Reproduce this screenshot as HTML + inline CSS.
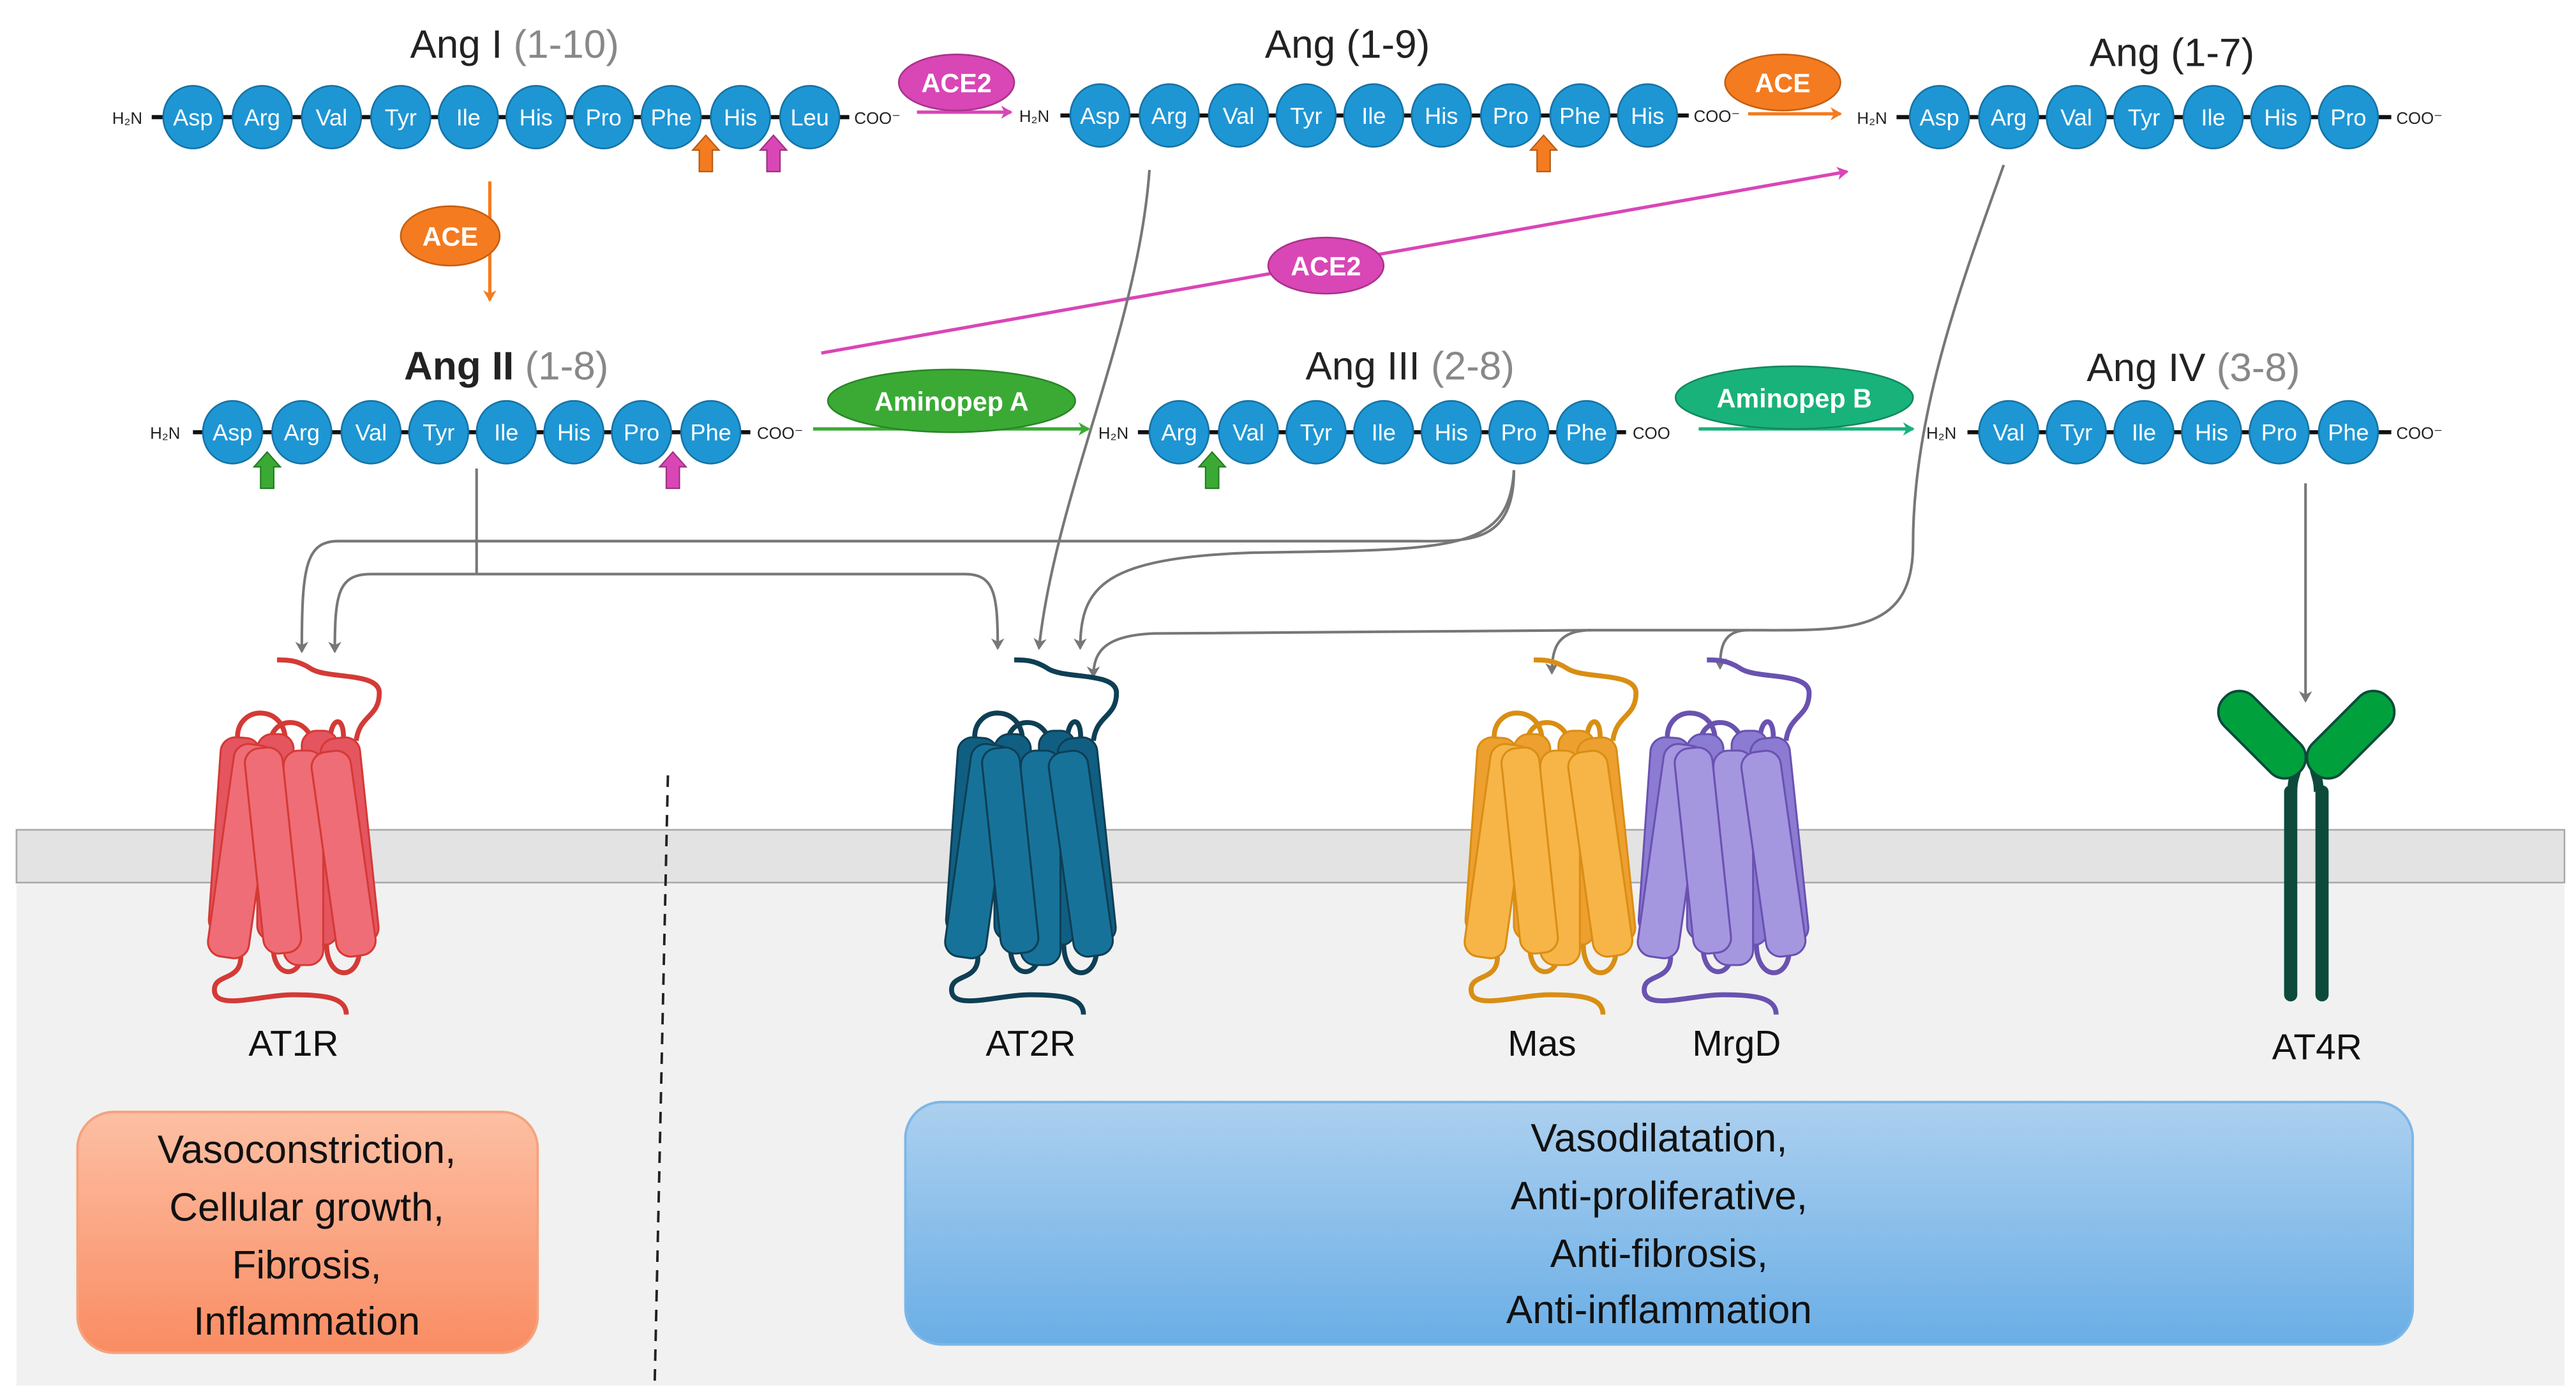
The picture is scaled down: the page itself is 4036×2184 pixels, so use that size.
<!DOCTYPE html>
<html><head><meta charset="utf-8"><style>
html,body{margin:0;padding:0;background:#fff}
svg{display:block}
text{font-family:"Liberation Sans",sans-serif}
</style></head><body>
<svg width="4036" height="2184" viewBox="0 0 1562 845" preserveAspectRatio="none" xmlns="http://www.w3.org/2000/svg">
<defs>
<marker id="ag" markerWidth="8" markerHeight="8" refX="6" refY="4" orient="auto" markerUnits="userSpaceOnUse"><path d="M0,0 L7,4 L0,8 L2,4z" fill="#777"/></marker>
<marker id="ao" markerWidth="8" markerHeight="8" refX="6" refY="4" orient="auto" markerUnits="userSpaceOnUse"><path d="M0,0 L7,4 L0,8 L2,4z" fill="#f47b20"/></marker>
<marker id="am" markerWidth="8" markerHeight="8" refX="6" refY="4" orient="auto" markerUnits="userSpaceOnUse"><path d="M0,0 L7,4 L0,8 L2,4z" fill="#d946b6"/></marker>
<marker id="agr" markerWidth="8" markerHeight="8" refX="6" refY="4" orient="auto" markerUnits="userSpaceOnUse"><path d="M0,0 L7,4 L0,8 L2,4z" fill="#3aaa35"/></marker>
<marker id="at" markerWidth="8" markerHeight="8" refX="6" refY="4" orient="auto" markerUnits="userSpaceOnUse"><path d="M0,0 L7,4 L0,8 L2,4z" fill="#19b27a"/></marker>
<linearGradient id="go" x1="0" y1="0" x2="0" y2="1"><stop offset="0" stop-color="#fdbfa3"/><stop offset="1" stop-color="#f98c63"/></linearGradient>
<linearGradient id="gb" x1="0" y1="0" x2="0" y2="1"><stop offset="0" stop-color="#acd0ef"/><stop offset="1" stop-color="#6aaee6"/></linearGradient>
<g id="rec">
  <path d="M-34,32 C-34,12 -5,12 -5,34 M-14,36 C-14,18 12,18 12,40 M22,36 C22,18 32,18 30,36 M38,34 C40,18 52,20 52,5 C52,-8 20,-3 10,-10 C2,-15 -4,-15 -10,-15" fill="none" stroke="var(--d)" stroke-width="3"/>
  <g fill="var(--b)" stroke="var(--d)" stroke-width="1.2">
    <rect x="-22" y="30" width="22" height="125" rx="9"/>
    <rect x="5" y="28" width="22" height="130" rx="9"/>
    <rect x="22" y="32" width="24" height="125" rx="9" transform="rotate(-6 34 95)"/>
    <rect x="-48" y="32" width="24" height="120" rx="9" transform="rotate(4 -36 95)"/>
  </g>
  <path d="M-12,155 C-15,180 8,180 5,157 M20,157 C20,180 40,180 40,160" fill="none" stroke="var(--d)" stroke-width="3"/>
  <g fill="var(--f)" stroke="var(--d)" stroke-width="1.2">
    <rect x="-44" y="36" width="25" height="130" rx="9" transform="rotate(8 -31 100)"/>
    <rect x="-6" y="40" width="24" height="130" rx="9"/>
    <rect x="18" y="40" width="24" height="125" rx="9" transform="rotate(-8 30 100)"/>
    <rect x="-24" y="38" width="23" height="125" rx="9" transform="rotate(-6 -12 100)"/>
  </g>
  <path d="M-32,165 C-32,180 -48,175 -48,185 C-48,198 -20,188 0,188 C20,188 32,190 32,200" fill="none" stroke="var(--d)" stroke-width="3"/>
</g>
</defs>

<rect x="10" y="535" width="1545" height="305" fill="#f1f1f1"/>
<rect x="10" y="503" width="1545" height="32" fill="#e3e3e3" stroke="#aaa" stroke-width="1"/>
<line x1="405" y1="470" x2="397" y2="838" stroke="#222" stroke-width="1.5" stroke-dasharray="7,5"/>

<g font-size="24" text-anchor="middle" fill="#222">
<text x="312" y="35">Ang I <tspan fill="#888">(1-10)</tspan></text>
<text x="817" y="35">Ang (1-9)</text>
<text x="1317" y="40">Ang (1-7)</text>
<text x="307" y="230"><tspan font-weight="bold">Ang II</tspan> <tspan fill="#888">(1-8)</tspan></text>
<text x="855" y="230">Ang III <tspan fill="#888">(2-8)</tspan></text>
<text x="1330" y="231">Ang IV <tspan fill="#888">(3-8)</tspan></text>
</g>

<g stroke="#111" stroke-width="2.5">
<line x1="92" y1="71" x2="515" y2="71"/>
<line x1="643" y1="70" x2="1024" y2="70"/>
<line x1="1150" y1="71" x2="1450" y2="71"/>
<line x1="117" y1="262" x2="455" y2="262"/>
<line x1="690" y1="262" x2="986" y2="262"/>
<line x1="1193" y1="262" x2="1450" y2="262"/>
</g>
<g font-size="10" fill="#222">
<text x="68" y="75">H₂N</text><text x="518" y="75">COO⁻</text>
<text x="618" y="74">H₂N</text><text x="1027" y="74">COO⁻</text>
<text x="1126" y="75">H₂N</text><text x="1453" y="75">COO⁻</text>
<text x="91" y="266">H₂N</text><text x="459" y="266">COO⁻</text>
<text x="666" y="266">H₂N</text><text x="990" y="266">COO</text>
<text x="1168" y="266">H₂N</text><text x="1453" y="266">COO⁻</text>
</g>

<g fill="#1e96d4" stroke="#1673a5" stroke-width="1">
<ellipse cx="117" cy="71" rx="18" ry="19"/><ellipse cx="159" cy="71" rx="18" ry="19"/><ellipse cx="201" cy="71" rx="18" ry="19"/><ellipse cx="243" cy="71" rx="18" ry="19"/><ellipse cx="284" cy="71" rx="18" ry="19"/><ellipse cx="325" cy="71" rx="18" ry="19"/><ellipse cx="366" cy="71" rx="18" ry="19"/><ellipse cx="407" cy="71" rx="18" ry="19"/><ellipse cx="449" cy="71" rx="18" ry="19"/><ellipse cx="491" cy="71" rx="18" ry="19"/>
<ellipse cx="667" cy="70" rx="18" ry="19"/><ellipse cx="709" cy="70" rx="18" ry="19"/><ellipse cx="751" cy="70" rx="18" ry="19"/><ellipse cx="792" cy="70" rx="18" ry="19"/><ellipse cx="833" cy="70" rx="18" ry="19"/><ellipse cx="874" cy="70" rx="18" ry="19"/><ellipse cx="916" cy="70" rx="18" ry="19"/><ellipse cx="958" cy="70" rx="18" ry="19"/><ellipse cx="999" cy="70" rx="18" ry="19"/>
<ellipse cx="1176" cy="71" rx="18" ry="19"/><ellipse cx="1218" cy="71" rx="18" ry="19"/><ellipse cx="1259" cy="71" rx="18" ry="19"/><ellipse cx="1300" cy="71" rx="18" ry="19"/><ellipse cx="1342" cy="71" rx="18" ry="19"/><ellipse cx="1383" cy="71" rx="18" ry="19"/><ellipse cx="1424" cy="71" rx="18" ry="19"/>
<ellipse cx="141" cy="262" rx="18" ry="19"/><ellipse cx="183" cy="262" rx="18" ry="19"/><ellipse cx="225" cy="262" rx="18" ry="19"/><ellipse cx="266" cy="262" rx="18" ry="19"/><ellipse cx="307" cy="262" rx="18" ry="19"/><ellipse cx="348" cy="262" rx="18" ry="19"/><ellipse cx="389" cy="262" rx="18" ry="19"/><ellipse cx="431" cy="262" rx="18" ry="19"/>
<ellipse cx="715" cy="262" rx="18" ry="19"/><ellipse cx="757" cy="262" rx="18" ry="19"/><ellipse cx="798" cy="262" rx="18" ry="19"/><ellipse cx="839" cy="262" rx="18" ry="19"/><ellipse cx="880" cy="262" rx="18" ry="19"/><ellipse cx="921" cy="262" rx="18" ry="19"/><ellipse cx="962" cy="262" rx="18" ry="19"/>
<ellipse cx="1218" cy="262" rx="18" ry="19"/><ellipse cx="1259" cy="262" rx="18" ry="19"/><ellipse cx="1300" cy="262" rx="18" ry="19"/><ellipse cx="1341" cy="262" rx="18" ry="19"/><ellipse cx="1382" cy="262" rx="18" ry="19"/><ellipse cx="1424" cy="262" rx="18" ry="19"/>
</g>
<g font-size="14" fill="#fff" text-anchor="middle">
<text x="117" y="76">Asp</text><text x="159" y="76">Arg</text><text x="201" y="76">Val</text><text x="243" y="76">Tyr</text><text x="284" y="76">Ile</text><text x="325" y="76">His</text><text x="366" y="76">Pro</text><text x="407" y="76">Phe</text><text x="449" y="76">His</text><text x="491" y="76">Leu</text>
<text x="667" y="75">Asp</text><text x="709" y="75">Arg</text><text x="751" y="75">Val</text><text x="792" y="75">Tyr</text><text x="833" y="75">Ile</text><text x="874" y="75">His</text><text x="916" y="75">Pro</text><text x="958" y="75">Phe</text><text x="999" y="75">His</text>
<text x="1176" y="76">Asp</text><text x="1218" y="76">Arg</text><text x="1259" y="76">Val</text><text x="1300" y="76">Tyr</text><text x="1342" y="76">Ile</text><text x="1383" y="76">His</text><text x="1424" y="76">Pro</text>
<text x="141" y="267">Asp</text><text x="183" y="267">Arg</text><text x="225" y="267">Val</text><text x="266" y="267">Tyr</text><text x="307" y="267">Ile</text><text x="348" y="267">His</text><text x="389" y="267">Pro</text><text x="431" y="267">Phe</text>
<text x="715" y="267">Arg</text><text x="757" y="267">Val</text><text x="798" y="267">Tyr</text><text x="839" y="267">Ile</text><text x="880" y="267">His</text><text x="921" y="267">Pro</text><text x="962" y="267">Phe</text>
<text x="1218" y="267">Val</text><text x="1259" y="267">Tyr</text><text x="1300" y="267">Ile</text><text x="1341" y="267">His</text><text x="1382" y="267">Pro</text><text x="1424" y="267">Phe</text>
</g>

<g stroke-width="0.8">
<path d="M428,82 L436,91 L432,91 L432,104 L424,104 L424,91 L420,91z" fill="#f47b20" stroke="#b55a10"/>
<path d="M469,82 L477,91 L473,91 L473,104 L465,104 L465,91 L461,91z" fill="#d946b6" stroke="#9a2f80"/>
<path d="M936,82 L944,91 L940,91 L940,104 L932,104 L932,91 L928,91z" fill="#f47b20" stroke="#b55a10"/>
<path d="M162,274 L170,283 L166,283 L166,296 L158,296 L158,283 L154,283z" fill="#3aaa35" stroke="#237a20"/>
<path d="M408,274 L416,283 L412,283 L412,296 L404,296 L404,283 L400,283z" fill="#d946b6" stroke="#9a2f80"/>
<path d="M735,274 L743,283 L739,283 L739,296 L731,296 L731,283 L727,283z" fill="#3aaa35" stroke="#237a20"/>
</g>

<line x1="556" y1="68" x2="613" y2="68" stroke="#d946b6" stroke-width="2" marker-end="url(#am)"/>
<line x1="1060" y1="69" x2="1116" y2="69" stroke="#f47b20" stroke-width="2" marker-end="url(#ao)"/>
<line x1="297" y1="110" x2="297" y2="182" stroke="#f47b20" stroke-width="2" marker-end="url(#ao)"/>
<line x1="498" y1="214" x2="1120" y2="104" stroke="#d946b6" stroke-width="2" marker-end="url(#am)"/>
<line x1="493" y1="260" x2="660" y2="260" stroke="#3aaa35" stroke-width="2" marker-end="url(#agr)"/>
<line x1="1030" y1="260" x2="1160" y2="260" stroke="#19b27a" stroke-width="2" marker-end="url(#at)"/>

<g font-size="16" font-weight="bold" fill="#fff" text-anchor="middle">
<ellipse cx="580" cy="50" rx="35" ry="17" fill="#d946b6" stroke="#a8338b"/><text x="580" y="56">ACE2</text>
<ellipse cx="1081" cy="50" rx="35" ry="17" fill="#f47b20" stroke="#c55f12"/><text x="1081" y="56">ACE</text>
<ellipse cx="273" cy="143" rx="30" ry="18" fill="#f47b20" stroke="#c55f12"/><text x="273" y="149">ACE</text>
<ellipse cx="804" cy="161" rx="35" ry="17" fill="#d946b6" stroke="#a8338b"/><text x="804" y="167">ACE2</text>
<ellipse cx="577" cy="243" rx="75" ry="19" fill="#3aaa35" stroke="#2a8626"/><text x="577" y="249">Aminopep A</text>
<ellipse cx="1088" cy="241" rx="72" ry="19" fill="#19b27a" stroke="#12885d"/><text x="1088" y="247">Aminopep B</text>
</g>

<g fill="none" stroke="#777" stroke-width="1.6">
<path d="M289,284 L289,348"/>
<path d="M289,348 L225,348 C205,348 203,360 203,395" marker-end="url(#ag)"/>
<path d="M289,348 L585,348 C603,348 605,360 605,393" marker-end="url(#ag)"/>
<path d="M918,285 C918,330 890,328 860,328 L205,328 C185,328 183,345 183,395" marker-end="url(#ag)"/>
<path d="M918,285 C915,335 880,333 760,335 C670,338 655,355 655,393" marker-end="url(#ag)"/>
<path d="M697,103 C690,200 640,300 630,393" marker-end="url(#ag)"/>
<path d="M1215,100 C1190,170 1160,250 1160,330 C1160,385 1120,382 1060,382 L965,382 C945,382 941,392 941,408" marker-end="url(#ag)"/>
<path d="M1060,382 C1045,382 1043,392 1043,405" marker-end="url(#ag)"/>
<path d="M965,382 L700,384 C670,385 663,395 663,410" marker-end="url(#ag)"/>
<path d="M1398,293 L1398,425" marker-end="url(#ag)"/>
</g>

<use href="#rec" x="178" y="415" style="--f:#ef6d76;--b:#e55560;--d:#d43a36"/>
<use href="#rec" x="625" y="415" style="--f:#17729a;--b:#105f82;--d:#0e3f55"/>
<use href="#rec" x="940" y="415" style="--f:#f7b548;--b:#eda030;--d:#d98e14"/>
<use href="#rec" x="1045" y="415" style="--f:#a596e0;--b:#8b7bd2;--d:#6a52b0"/>

<g>
<path d="M1390,480 C1390,470 1393,470 1393,460 M1406,480 C1406,470 1403,470 1403,460" stroke="#0d4a3c" stroke-width="6" fill="none"/>
<line x1="1389" y1="480" x2="1389" y2="603" stroke="#0d4a3c" stroke-width="8" stroke-linecap="round"/>
<line x1="1408" y1="480" x2="1408" y2="603" stroke="#0d4a3c" stroke-width="8" stroke-linecap="round"/>
<rect x="1340" y="433" width="64" height="25" rx="12" transform="rotate(45 1372 445)" fill="#00a13c" stroke="#0d4a3c" stroke-width="1.5"/>
<rect x="1393" y="433" width="64" height="25" rx="12" transform="rotate(-45 1425 445)" fill="#00a13c" stroke="#0d4a3c" stroke-width="1.5"/>
</g>

<g font-size="22" text-anchor="middle" fill="#111">
<text x="178" y="640">AT1R</text>
<text x="625" y="640">AT2R</text>
<text x="935" y="640">Mas</text>
<text x="1053" y="640">MrgD</text>
<text x="1405" y="642">AT4R</text>
</g>

<rect x="47" y="674" width="279" height="146" rx="22" fill="url(#go)" stroke="#f4a37e" stroke-width="1.5"/>
<g font-size="24" text-anchor="middle" fill="#111">
<text x="186" y="705">Vasoconstriction,</text>
<text x="186" y="740">Cellular growth,</text>
<text x="186" y="775">Fibrosis,</text>
<text x="186" y="809">Inflammation</text>
</g>
<rect x="549" y="668" width="914" height="147" rx="22" fill="url(#gb)" stroke="#7db6e6" stroke-width="1.5"/>
<g font-size="24" text-anchor="middle" fill="#111">
<text x="1006" y="698">Vasodilatation,</text>
<text x="1006" y="733">Anti-proliferative,</text>
<text x="1006" y="768">Anti-fibrosis,</text>
<text x="1006" y="802">Anti-inflammation</text>
</g>
</svg>
</body></html>
